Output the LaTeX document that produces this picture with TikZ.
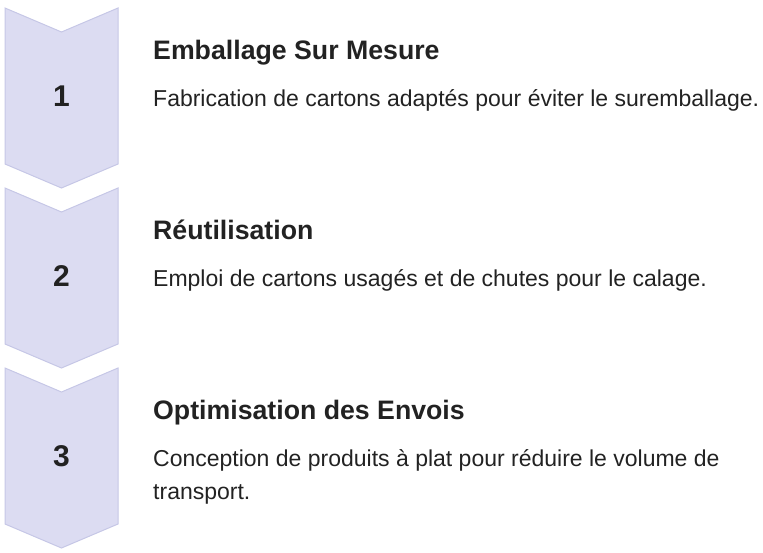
\documentclass[tikz,border=0pt]{standalone}
\usepackage{fontspec}
\setmainfont{Liberation Sans}
\definecolor{chevfill}{HTML}{DCDCF2}
\definecolor{chevdraw}{HTML}{C6C7E6}
\definecolor{ink}{HTML}{222222}
\begin{document}
\begin{tikzpicture}[x=1pt,y=-1pt,
  chev/.style={fill=chevfill,draw=chevdraw,line width=1pt,line join=miter},
  num/.style={inner sep=0pt,anchor=base,text=ink,font=\bfseries\fontsize{30}{30}\selectfont},
  ttl/.style={inner sep=0pt,anchor=base west,text=ink,font=\bfseries\fontsize{26.7}{30}\selectfont},
  dsc/.style={inner sep=0pt,anchor=base west,text=ink,align=left,font=\fontsize{23}{33}\selectfont}]
\useasboundingbox (0,0) rectangle (763,552);
\foreach \k in {0,1,2}{
  \pgfmathsetmacro{\o}{180*\k}
  \draw[chev] (5,8+\o) -- (61.5,32+\o) -- (118,8+\o) -- (118,164+\o) -- (61.5,188+\o) -- (5,164+\o) -- cycle;
}
\node[num] (n1) at (61.5,106.5) {1};
\node[num] (n2) at (61.5,286.5) {2};
\node[num] (n3) at (61.5,466.5) {3};
\node[ttl] (t1) at (153,59) {Emballage Sur Mesure};
\node[dsc] (d1) at (153,106) {Fabrication de cartons adaptés pour éviter le suremballage.};
\node[ttl] (t2) at (153,239) {Réutilisation};
\node[dsc] (d2) at (153,286) {Emploi de cartons usagés et de chutes pour le calage.};
\node[ttl] (t3) at (153,419) {Optimisation des Envois};
\node[dsc] (d3) at (153,499) {Conception de produits à plat pour réduire le volume de\\transport.};
\end{tikzpicture}
\end{document}
